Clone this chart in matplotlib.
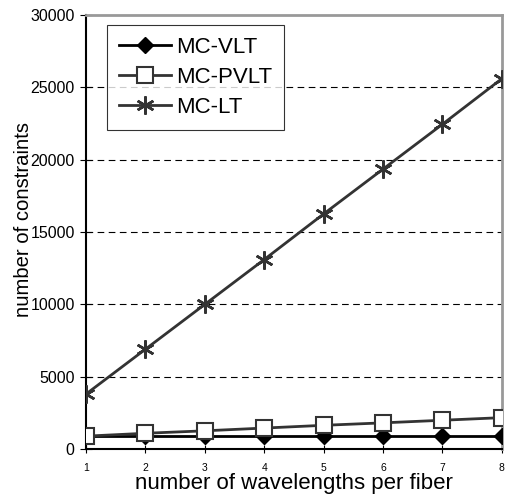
import matplotlib
matplotlib.use("Agg")
import matplotlib.pyplot as plt

plt.rcParams['font.family'] = ['Liberation Sans', 'DejaVu Sans']

wavelengths = [1, 2, 3, 4, 5, 6, 7, 8]
mc_vlt = [880, 880, 880, 880, 880, 880, 880, 880]
mc_pvlt = [900, 1100, 1270, 1460, 1650, 1820, 2000, 2180]
mc_lt = [3800, 6900, 10000, 13100, 16250, 19350, 22450, 25600]
yticks = [0, 5000, 10000, 15000, 20000, 25000, 30000]

fig = plt.figure(figsize=(5.08, 4.98), dpi=100)
ax = fig.add_axes([0.169, 0.098, 0.819, 0.872])

for y in yticks[1:-1]:
    ax.axhline(y, color='black', linestyle=(0, (6, 4)), linewidth=0.8, zorder=1)

ax.plot(wavelengths, mc_vlt, color='black', linewidth=2, marker='D',
        markersize=8, markerfacecolor='black', label='MC-VLT', zorder=3)
ax.plot(wavelengths, mc_pvlt, color='#333333', linewidth=2, marker='s',
        markersize=11, markerfacecolor='white', markeredgecolor='#333333',
        markeredgewidth=1.5, label='MC-PVLT', zorder=4)
ax.plot(wavelengths, mc_lt, color='#333333', linewidth=2, marker=(6, 2, 0),
        markersize=13, markeredgewidth=1.8, label='MC-LT', zorder=3)

ax.set_xlim(1, 8)
ax.set_ylim(0, 30000)
ax.set_xticks(wavelengths)
ax.set_yticks(yticks)
ax.tick_params(axis='y', direction='inout', length=8, labelsize=11.5, pad=4)
ax.tick_params(axis='x', direction='inout', length=6, labelsize=7.5, pad=7)

for s in ['left', 'bottom']:
    ax.spines[s].set_color('black')
    ax.spines[s].set_linewidth(1.5)
for s in ['top', 'right']:
    ax.spines[s].set_color('#999999')
    ax.spines[s].set_linewidth(2)

ax.set_xlabel('number of wavelengths per fiber', fontsize=16, labelpad=0)
ax.set_ylabel('number of constraints', fontsize=14.6)
ax.yaxis.set_label_coords(-0.127, 0.528)

leg = ax.legend(loc='upper left', bbox_to_anchor=(0.05, 0.977), fontsize=16,
                frameon=True, fancybox=False, edgecolor='black',
                handlelength=2.35, borderpad=0.55, labelspacing=0.4,
                handletextpad=0.22, borderaxespad=0)
leg.get_frame().set_linewidth(0.8)

fig.savefig('out.png', dpi=100)
